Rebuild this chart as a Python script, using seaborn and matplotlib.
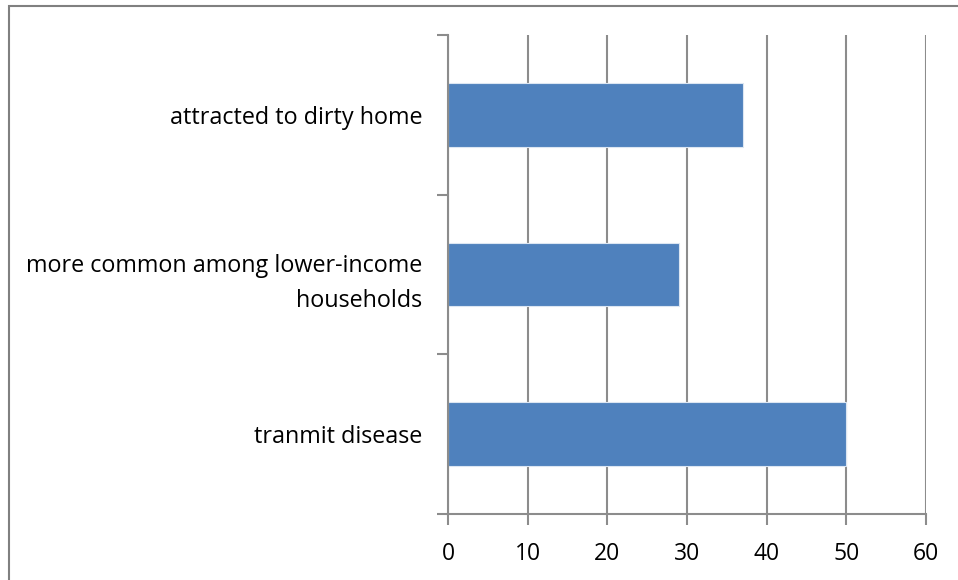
import matplotlib
matplotlib.use("Agg")
import matplotlib.pyplot as plt
import seaborn as sns
import pandas as pd
from matplotlib.patches import Rectangle

# ── Data ──────────────────────────────────────────────────
categories = [
    "attracted to dirty home",
    "more common among lower-income\nhouseholds",
    "tranmit disease",
]
values = [37, 29, 50]
x_ticks = [0, 10, 20, 30, 40, 50, 60]

BAR_COLOR = "#4F81BD"
AXIS_GRAY = "#8C8C8C"

df = pd.DataFrame({"category": categories, "value": values})

sns.set_theme(style="white")
plt.rcParams["font.family"] = ["Open Sans", "DejaVu Sans"]

fig = plt.figure(figsize=(9.58, 5.80), dpi=100)
W, H = 958, 580
ax = fig.add_axes([448 / W, 1 - 514 / H, (926 - 448) / W, (514 - 35) / H])

sns.barplot(data=df, x="value", y="category", orient="h", color=BAR_COLOR,
            saturation=1, width=0.4, edgecolor="#DCE6F2", linewidth=0.8, ax=ax)

ax.set_xlim(0, 60)
ax.set_ylim(2.5, -0.5)
ax.set_xticks(x_ticks)
ax.set_xticklabels([str(t) for t in x_ticks], fontsize=16.5, color="black")
ax.set_xlabel("")
ax.set_ylabel("")

# category boundaries as y ticks (Excel style), labels at bar centers
ax.set_yticks([-0.5, 0.5, 1.5, 2.5])
ax.set_yticklabels([])
ax.set_yticks([0, 1, 2], minor=True)
ax.set_yticklabels(categories, minor=True, fontsize=16.8, color="black",
                   linespacing=1.65)
ax.tick_params(axis="y", which="minor", length=0, pad=18.5)
ax.tick_params(axis="y", which="major", length=8, width=1.5, color=AXIS_GRAY, left=True)
ax.tick_params(axis="x", length=8, width=1.5, color=AXIS_GRAY, pad=12, bottom=True)
for lbl in ax.get_yticklabels(minor=True):
    lbl.set_horizontalalignment("right")

ax.grid(axis="x", color=AXIS_GRAY, linewidth=1.5)
ax.set_axisbelow(True)
for side in ["top", "right"]:
    ax.spines[side].set_visible(False)
for side in ["left", "bottom"]:
    ax.spines[side].set_color(AXIS_GRAY)
    ax.spines[side].set_linewidth(1.5)

# outer chart frame
fig.patches.append(Rectangle((8.5 / W, -0.1), 1.2, 1 - 5.5 / H + 0.1,
                             transform=fig.transFigure, fill=False,
                             edgecolor="#808080", linewidth=1.5))

fig.savefig("out.png", dpi=100)
